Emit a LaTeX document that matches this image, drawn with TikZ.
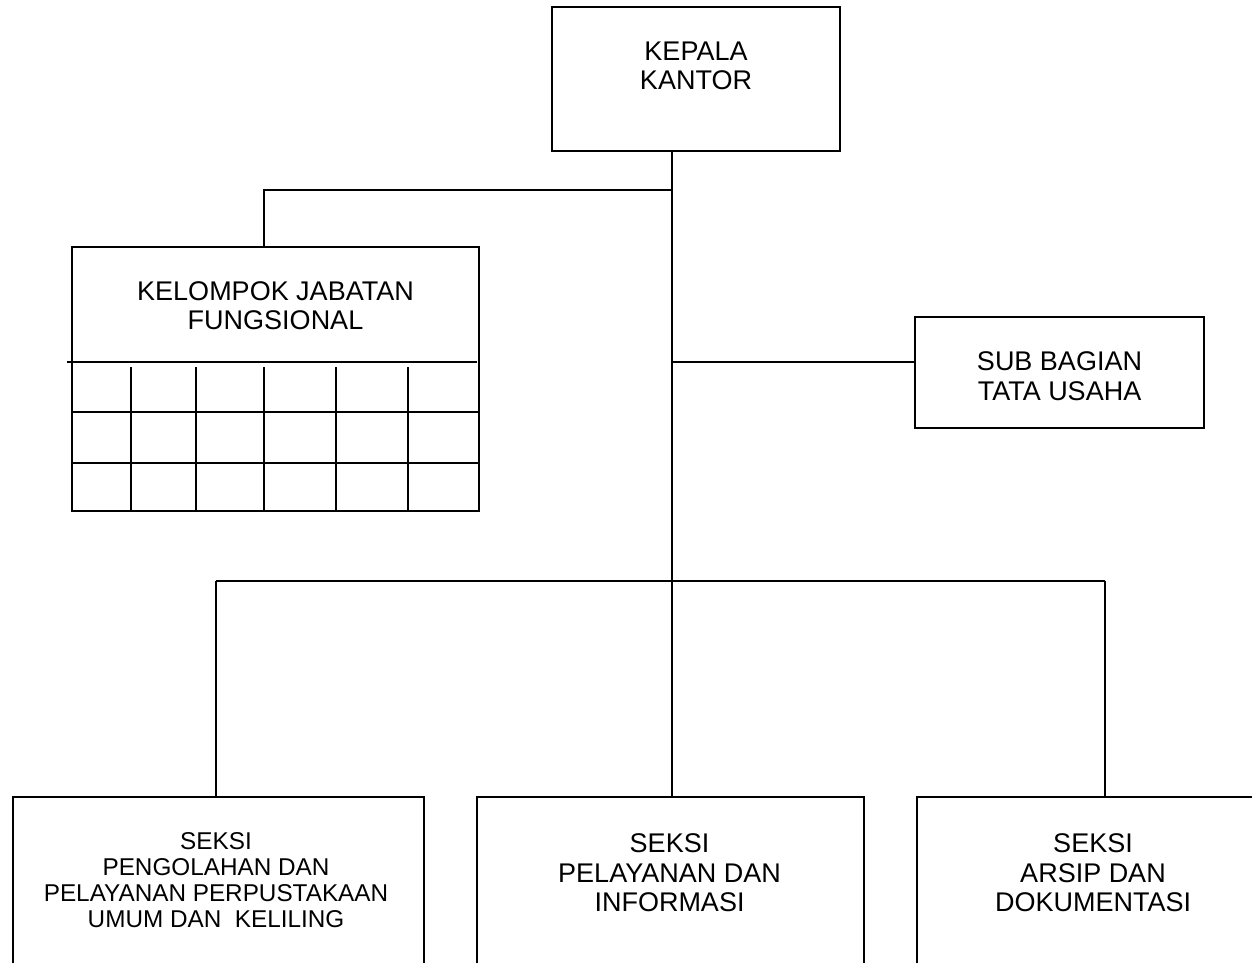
\documentclass[tikz,border=0pt]{standalone}
\usepackage{fontspec}
\setmainfont{Liberation Sans}
\begin{document}
\begin{tikzpicture}[x=1pt,y=-1pt, line width=2pt,
  box/.style={draw, rectangle, inner sep=0pt, outer sep=0pt, line width=2pt},
  lbl/.style={anchor=north, inner sep=0pt, align=center, font=\fontsize{27}{29}\selectfont},
  lblsmall/.style={anchor=north, inner sep=0pt, align=center, font=\fontsize{24.3}{26}\selectfont}]
\path[use as bounding box, clip] (0,0) rectangle (1252,963);

% boxes
\node[box, minimum width=288, minimum height=144] (kepala) at (696,79) {};
\node[box, minimum width=407, minimum height=264] (kjf) at (275.5,379) {};
\node[box, minimum width=289, minimum height=111] (sub) at (1059.5,372.5) {};
\node[box, minimum width=411, minimum height=206] (s1) at (218.5,900) {};
\node[box, minimum width=387, minimum height=206] (s2) at (670.5,900) {};
\node[box, minimum width=352, minimum height=206] (s3) at (1093,900) {};

% labels
\node[lbl] (tkepala) at (696,40.7) {KEPALA\\KANTOR};
\node[lbl, font=\fontsize{27}{28.5}\selectfont] (tkjf) at (275.5,280.7) {KELOMPOK JABATAN\\FUNGSIONAL};
\node[lbl, font=\fontsize{27}{30}\selectfont] (tsub) at (1059.5,350.7) {SUB BAGIAN\\TATA USAHA};
\node[lblsmall] (ts1) at (216,831.6) {SEKSI\\PENGOLAHAN DAN\\PELAYANAN PERPUSTAKAAN\\UMUM DAN\ \ KELILING};
\node[lbl, font=\fontsize{27}{29.5}\selectfont] (ts2) at (669.5,832.7) {SEKSI\\PELAYANAN DAN\\INFORMASI};
\node[lbl, font=\fontsize{27}{29.5}\selectfont] (ts3) at (1093,832.7) {SEKSI\\ARSIP DAN\\DOKUMENTASI};

% grid inside KJF
\draw (67,362) -- (477,362);
\foreach \gx in {131,195.5,264,336,408} {\draw (\gx,367) -- (\gx,511);}
\draw (72,412) -- (479,412);
\draw (72,463) -- (479,463);

% connectors
\coordinate (jA) at (672,190);
\coordinate (jB) at (672,362);
\coordinate (jC) at (672,581);
\coordinate (kA) at (264,190);
\coordinate (bL) at (216,581);
\coordinate (bR) at (1105,581);
\draw (kepala.south -| jA) -- (jC);
\draw (jA) -- (kA) -- (kA |- kjf.north);
\draw (jB) -- (jB -| sub.west);
\draw (bL) -- (bR);
\draw (bL) -- (bL |- s1.north);
\draw (jC) -- (jC |- s2.north);
\draw (bR) -- (bR |- s3.north);
\end{tikzpicture}
\end{document}
